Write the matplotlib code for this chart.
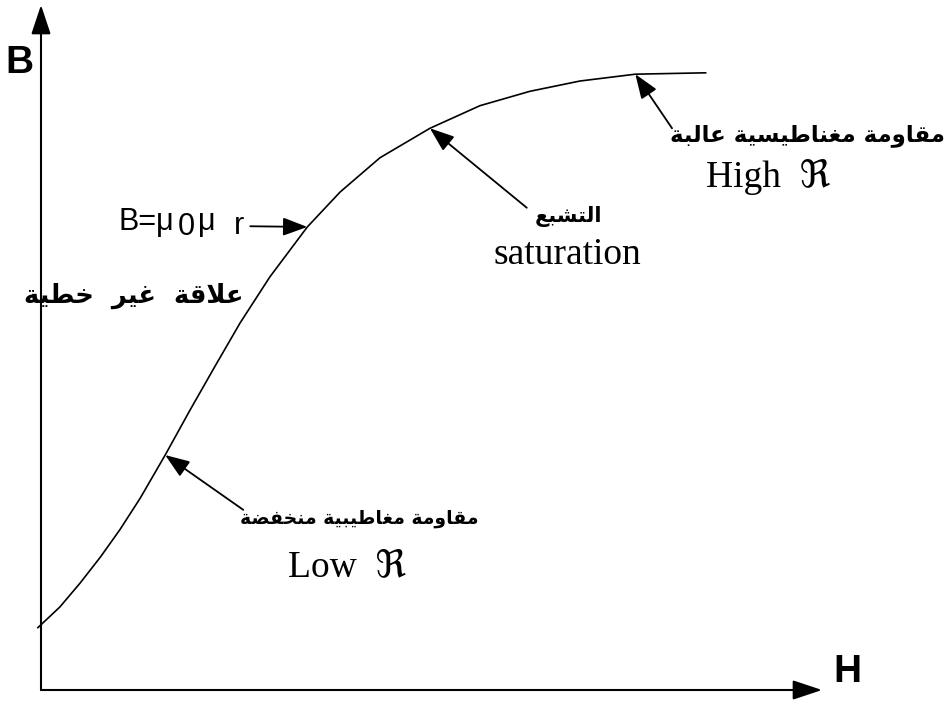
import matplotlib
matplotlib.use("Agg")
import matplotlib.pyplot as plt

# Magnetisation curve B(H), arbitrary units
H = [-0.04, 0.24, 0.50, 0.76, 1.01, 1.27, 1.59, 1.91, 2.23, 2.55,
     2.93, 3.41, 3.83, 4.34, 4.98, 5.62, 6.26, 6.90, 7.61, 8.51]
B = [0.91, 1.21, 1.56, 1.94, 2.34, 2.80, 3.43, 4.09, 4.73, 5.36,
     6.03, 6.76, 7.27, 7.77, 8.20, 8.53, 8.74, 8.89, 8.99, 9.01]

# indices of the curve points that the labels point at
i_low, i_mu, i_sat, i_high = 6, 11, 14, 18

label_high_ar = "مقاومة مغناطيسية عالبة"
label_high_en = "High  ℜ"
label_sat_ar = "التشبع"
label_sat_en = "saturation"
label_nonlin_ar = "علاقة  غير  خطية"
label_low_ar = "مقاومة مغاطيبية منخفضة"
label_low_en = "Low  ℜ"

# Arabic contextual forms: isolated, final, initial, medial
FORMS = {
    'ا': ('\uFE8D', '\uFE8E', None, None),
    'ب': ('\uFE8F', '\uFE90', '\uFE91', '\uFE92'),
    'ة': ('\uFE93', '\uFE94', None, None),
    'ت': ('\uFE95', '\uFE96', '\uFE97', '\uFE98'),
    'خ': ('\uFEA5', '\uFEA6', '\uFEA7', '\uFEA8'),
    'ر': ('\uFEAD', '\uFEAE', None, None),
    'س': ('\uFEB1', '\uFEB2', '\uFEB3', '\uFEB4'),
    'ش': ('\uFEB5', '\uFEB6', '\uFEB7', '\uFEB8'),
    'ض': ('\uFEBD', '\uFEBE', '\uFEBF', '\uFEC0'),
    'ط': ('\uFEC1', '\uFEC2', '\uFEC3', '\uFEC4'),
    'ع': ('\uFEC9', '\uFECA', '\uFECB', '\uFECC'),
    'غ': ('\uFECD', '\uFECE', '\uFECF', '\uFED0'),
    'ف': ('\uFED1', '\uFED2', '\uFED3', '\uFED4'),
    'ق': ('\uFED5', '\uFED6', '\uFED7', '\uFED8'),
    'ل': ('\uFEDD', '\uFEDE', '\uFEDF', '\uFEE0'),
    'م': ('\uFEE1', '\uFEE2', '\uFEE3', '\uFEE4'),
    'ن': ('\uFEE5', '\uFEE6', '\uFEE7', '\uFEE8'),
    'و': ('\uFEED', '\uFEEE', None, None),
    'ي': ('\uFEF1', '\uFEF2', '\uFEF3', '\uFEF4'),
}


def joins_next(c):
    return c in FORMS and FORMS[c][2] is not None


def shape(text):
    """Pick joined letter forms and reverse to visual order (no bidi lib here)."""
    out = []
    n = len(text)
    i = 0
    while i < n:
        c = text[i]
        if c not in FORMS:
            out.append(c)
            i += 1
            continue
        prev_join = i > 0 and joins_next(text[i - 1])
        if c == 'ل' and i + 1 < n and text[i + 1] == 'ا':
            out.append('\uFEFC' if prev_join else '\uFEFB')
            i += 2
            continue
        next_join = joins_next(c) and i + 1 < n and text[i + 1] in FORMS
        iso, fin, ini, med = FORMS[c]
        if prev_join and next_join:
            out.append(med)
        elif prev_join:
            out.append(fin)
        elif next_join:
            out.append(ini)
        else:
            out.append(iso)
        i += 1
    return ''.join(reversed(out))


AR = dict(family='DejaVu Sans', fontweight='bold')
SERIF = dict(family=['Liberation Serif', 'DejaVu Sans'], fontsize=27)
SANS = ['Liberation Sans', 'DejaVu Sans']

fig = plt.figure(figsize=(9.49, 7.02), dpi=100)
ax = fig.add_axes([41 / 949, 12 / 702, 781 / 949, 685 / 702])
ax.set_xlim(0, 10)
ax.set_ylim(0, 10)
ax.axis('off')

# axes with arrow heads
axis_arrow = dict(arrowstyle='-|>,head_length=0.9,head_width=0.3',
                  mutation_scale=20, lw=1.5, color='black',
                  shrinkA=0, shrinkB=0)
ax.annotate('', xy=(0, 1), xytext=(0, 0), xycoords='axes fraction',
            arrowprops=axis_arrow, annotation_clip=False)
ax.annotate('', xy=(1, 0), xytext=(0, 0), xycoords='axes fraction',
            arrowprops=axis_arrow, annotation_clip=False)
ax.text(-0.27, 9.16, 'B', family=SANS, fontsize=28, fontweight='bold',
        ha='center', va='center')
ax.text(10.33, 0.26, 'H', family=SANS, fontsize=28, fontweight='bold',
        ha='center', va='center')

# B-H curve
ax.plot(H, B, color='black', lw=1.2, clip_on=False)

pointer = dict(arrowstyle='-|>,head_length=0.75,head_width=0.28',
               mutation_scale=20, lw=1.3, color='black',
               shrinkA=0, shrinkB=0)

# high reluctance near the top
ax.annotate('', xy=(H[i_high], B[i_high]), xytext=(8.08, 8.20),
            arrowprops=pointer)
ax.text(11.57, 8.09, shape(label_high_ar), ha='right', va='center',
        fontsize=16.5, **AR)
ax.text(9.31, 7.49, label_high_en, ha='center', va='center', **SERIF)

# saturation
ax.annotate('', xy=(H[i_sat], B[i_sat]), xytext=(6.22, 7.04),
            arrowprops=pointer)
ax.text(6.75, 6.91, shape(label_sat_ar), ha='center', va='center',
        fontsize=15, **AR)
ax.text(6.74, 6.35, label_sat_en, ha='center', va='center', **SERIF)

# B = mu0 mu_r
ax.annotate('', xy=(H[i_mu], B[i_mu]), xytext=(2.68, 6.77),
            arrowprops=pointer)
t1 = ax.text(0.99, 6.72, 'B=μ', family=SANS, fontsize=22,
             ha='left', va='baseline')
t2 = ax.annotate('0', xy=(1, 0), xycoords=t1, xytext=(3, -4),
                 textcoords='offset points', family=SANS, fontsize=22,
                 ha='left', va='bottom')
t3 = ax.annotate('μ', xy=(1, 0), xycoords=t2, xytext=(2, 4),
                 textcoords='offset points', family=SANS, fontsize=22,
                 ha='left', va='bottom')
ax.annotate('r', xy=(1, 0), xycoords=t3, xytext=(13, -3),
            textcoords='offset points', family=SANS, fontsize=22,
            ha='left', va='bottom')

ax.text(1.19, 5.75, shape(label_nonlin_ar), ha='center', va='center',
        fontsize=18.5, **AR)

# low reluctance
ax.annotate('', xy=(H[i_low], B[i_low]), xytext=(2.59, 2.63),
            arrowprops=pointer)
ax.text(4.08, 2.51, shape(label_low_ar), ha='center', va='center',
        fontsize=13.5, **AR)
ax.text(3.92, 1.80, label_low_en, ha='center', va='center', **SERIF)

fig.savefig('out.png', dpi=100, facecolor='white')
